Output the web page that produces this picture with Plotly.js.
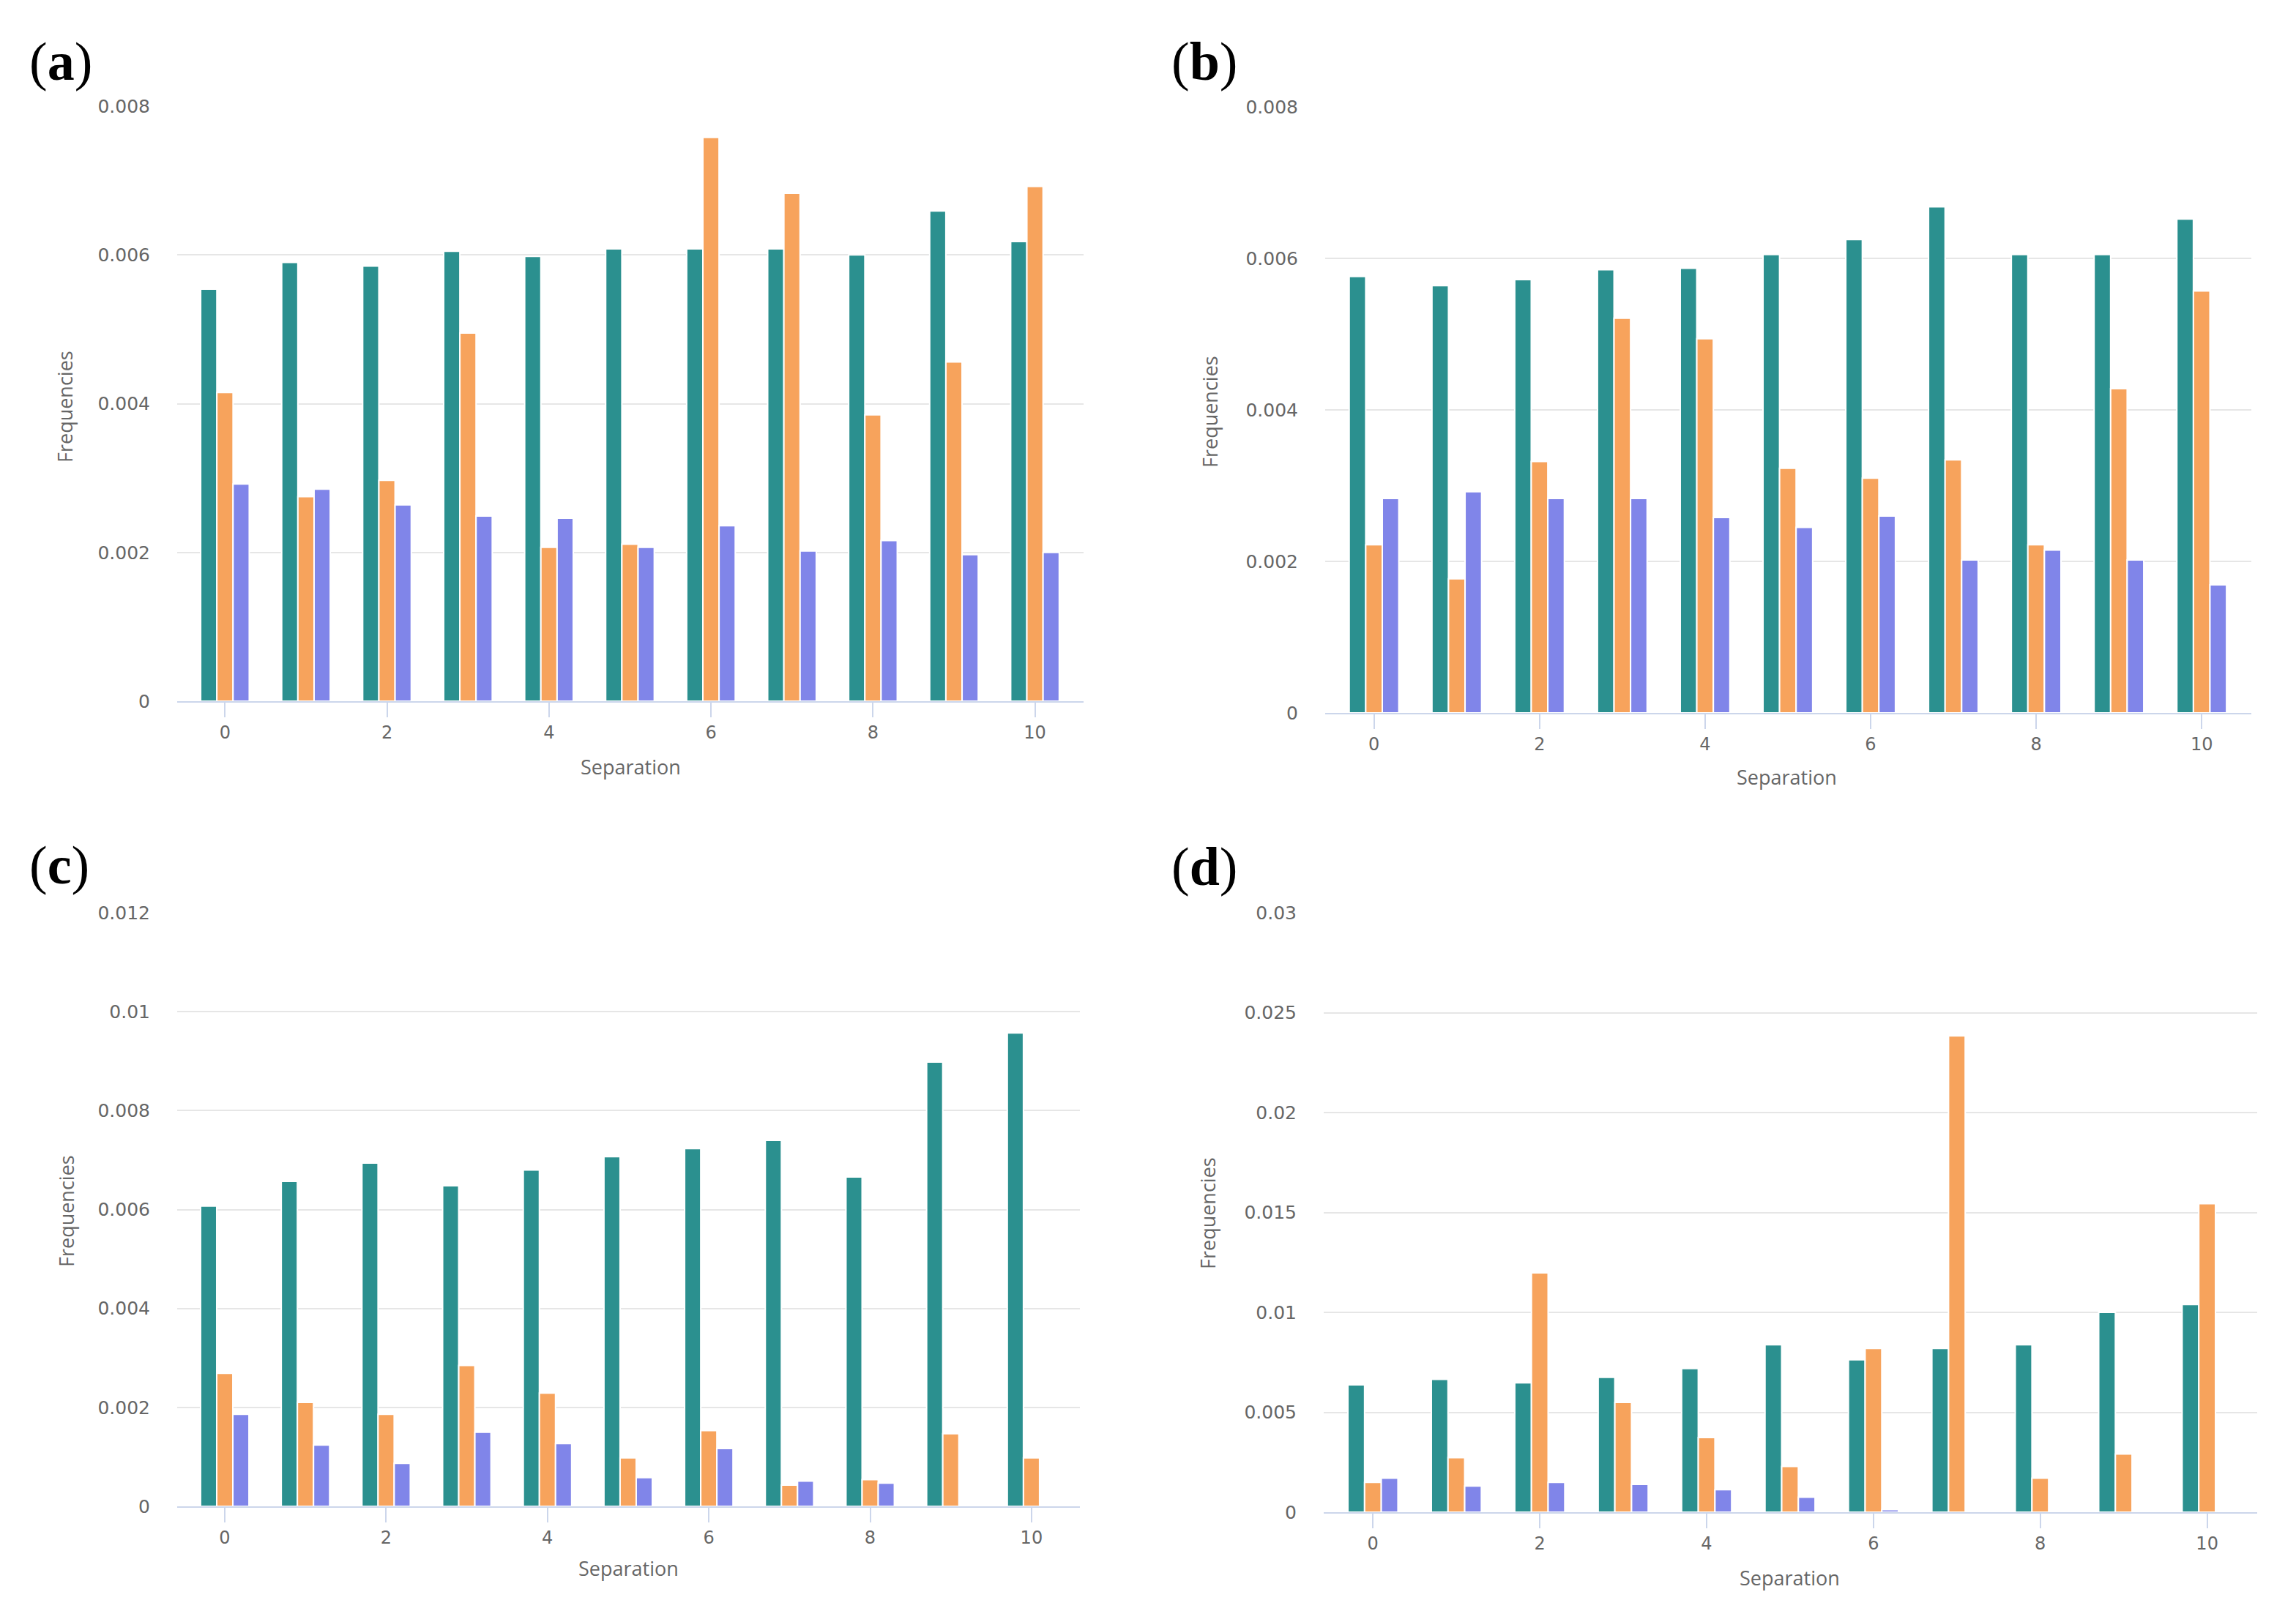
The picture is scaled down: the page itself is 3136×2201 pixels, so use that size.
<!DOCTYPE html>
<html>
<head>
<meta charset="utf-8">
<script src="https://cdn.plot.ly/plotly-3.0.1.min.js"></script>
<style>html,body{margin:0;padding:0;background:#fff;}</style>
</head>
<body>
<div id="plot" style="width:3136px;height:2201px;"></div>
<script>
var separation = [0, 1, 2, 3, 4, 5, 6, 7, 8, 9, 10];

// panel (a)
var a_teal   = [0.00554, 0.00590, 0.00585, 0.00605, 0.00598, 0.00608, 0.00608, 0.00608, 0.00600, 0.00659, 0.00618];
var a_orange = [0.00415, 0.00275, 0.00297, 0.00495, 0.00207, 0.00211, 0.00758, 0.00683, 0.00385, 0.00456, 0.00692];
var a_purple = [0.00292, 0.00285, 0.00264, 0.00249, 0.00246, 0.00207, 0.00236, 0.00202, 0.00216, 0.00197, 0.00200];

// panel (b)
var b_teal   = [0.00576, 0.00564, 0.00572, 0.00585, 0.00587, 0.00605, 0.00625, 0.00668, 0.00605, 0.00605, 0.00652];
var b_orange = [0.00222, 0.00177, 0.00332, 0.00521, 0.00494, 0.00323, 0.00310, 0.00334, 0.00222, 0.00428, 0.00557];
var b_purple = [0.00283, 0.00292, 0.00283, 0.00283, 0.00258, 0.00245, 0.00260, 0.00202, 0.00215, 0.00202, 0.00169];

// panel (c)
var c_teal   = [0.00607, 0.00657, 0.00694, 0.00648, 0.00680, 0.00707, 0.00723, 0.00740, 0.00666, 0.00898, 0.00957];
var c_orange = [0.00269, 0.00210, 0.00186, 0.00285, 0.00229, 0.00098, 0.00153, 0.00043, 0.00054, 0.00147, 0.00098];
var c_purple = [0.00186, 0.00124, 0.00087, 0.00150, 0.00127, 0.00058, 0.00117, 0.00051, 0.00047, 0, 0];

// panel (d)
var d_teal   = [0.00637, 0.00665, 0.00647, 0.00675, 0.00719, 0.00838, 0.00763, 0.00820, 0.00838, 0.01000, 0.01039];
var d_orange = [0.00149, 0.00273, 0.01198, 0.00549, 0.00374, 0.00229, 0.00820, 0.02384, 0.00170, 0.00291, 0.01544];
var d_purple = [0.00170, 0.00131, 0.00149, 0.00139, 0.00113, 0.00075, 0.00013, 0, 0, 0, 0];

var panelLabels = ['a', 'b', 'c', 'd'];
var yMax = [0.008, 0.008, 0.012, 0.03];
var yStep = [0.002, 0.002, 0.002, 0.005];
var xTitle = 'Separation';
var yTitle = 'Frequencies';

var colors = ['#2b908f', '#f7a35c', '#8085e9'];
var W = 3136, H = 2201;
function px(x) { return x / W; }
function py(y) { return 1 - y / H; }

// pixel boxes of the four plot areas: [left, right, top, bottom]
var boxes = [
  [242, 1480, 145, 958],
  [1810, 3075, 146, 974],
  [242, 1475, 1247, 2058],
  [1808, 3083, 1247, 2066]
];
var labelPos = [[38, 84], [1598, 84], [38, 1182], [1598, 1184]];
var yTitlePos = [[88, 556], [1653, 563], [90, 1655], [1650, 1658]];
var xTitlePos = [[861, 1047], [2440, 1061], [858, 2142], [2444, 2155]];

var series = [
  [a_teal, a_orange, a_purple],
  [b_teal, b_orange, b_purple],
  [c_teal, c_orange, c_purple],
  [d_teal, d_orange, d_purple]
];

var font = 'Open Sans, Lato, sans-serif';
var tickFont = 'DejaVu Sans, sans-serif';
var data = [];
var layout = {
  width: W, height: H,
  margin: {l: 0, r: 0, t: 0, b: 0},
  paper_bgcolor: '#fff', plot_bgcolor: '#fff',
  showlegend: false,
  barmode: 'group', bargap: 0.4, bargroupgap: 0,
  annotations: []
};

for (var p = 0; p < 4; p++) {
  var suf = p == 0 ? '' : String(p + 1);
  for (var s = 0; s < 3; s++) {
    data.push({
      type: 'bar', x: separation, y: series[p][s],
      name: 'Series ' + (s + 1),
      xaxis: 'x' + suf, yaxis: 'y' + suf,
      marker: {color: colors[s], line: {color: '#fff', width: 2}},
      hoverinfo: 'x+y'
    });
  }
  var b = boxes[p];
  layout['xaxis' + suf] = {
    domain: [px(b[0]), px(b[1])], anchor: 'y' + suf,
    range: [-0.59, 10.6], tick0: 0, dtick: 2,
    ticks: 'outside', ticklen: 20, tickwidth: 2, tickcolor: '#ccd6eb',
    showline: true, linecolor: '#ccd6eb', linewidth: 2,
    showgrid: false, zeroline: false,
    tickfont: {family: tickFont, size: 24, color: '#666'}
  };
  layout['yaxis' + suf] = {
    domain: [py(b[3]), py(b[2])], anchor: 'x' + suf,
    range: [0, yMax[p]], tick0: 0, dtick: yStep[p],
    showgrid: true, gridcolor: '#e6e6e6', gridwidth: 2,
    zeroline: false, showline: false, ticks: '',
    ticklabelstandoff: 36, exponentformat: 'none',
    tickfont: {family: tickFont, size: 25, color: '#666'}
  };
  layout.annotations.push({
    xref: 'paper', yref: 'paper', x: px(labelPos[p][0]), y: py(labelPos[p][1]),
    xanchor: 'left', yanchor: 'middle', showarrow: false,
    text: '(<b>' + panelLabels[p] + '</b>)',
    font: {family: 'Liberation Serif, serif', size: 74, color: '#000'}
  });
  layout.annotations.push({
    xref: 'paper', yref: 'paper', x: px(yTitlePos[p][0]), y: py(yTitlePos[p][1]),
    xanchor: 'center', yanchor: 'middle', showarrow: false, textangle: -90,
    text: yTitle, font: {family: font, size: 27, color: '#666'}
  });
  layout.annotations.push({
    xref: 'paper', yref: 'paper', x: px(xTitlePos[p][0]), y: py(xTitlePos[p][1]),
    xanchor: 'center', yanchor: 'middle', showarrow: false,
    text: xTitle, font: {family: font, size: 27, color: '#666'}
  });
}

Plotly.newPlot('plot', data, layout, {staticPlot: true});
</script>
</body>
</html>
